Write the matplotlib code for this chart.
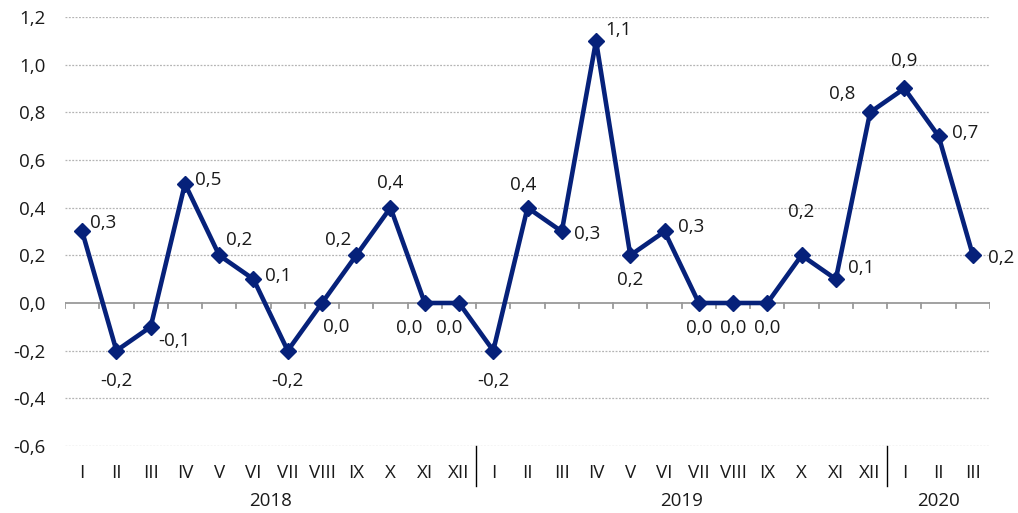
import matplotlib
matplotlib.use("Agg")
import matplotlib.pyplot as plt
import matplotlib.transforms as mtransforms

plt.rcParams['font.family'] = ['Open Sans', 'DejaVu Sans']

# monthly values, Jan 2018 - Mar 2020
months = ["I", "II", "III", "IV", "V", "VI", "VII", "VIII", "IX", "X", "XI", "XII",
          "I", "II", "III", "IV", "V", "VI", "VII", "VIII", "IX", "X", "XI", "XII",
          "I", "II", "III"]
values = [0.3, -0.2, -0.1, 0.5, 0.2, 0.1, -0.2, 0.0, 0.2, 0.4, 0.0, 0.0,
          -0.2, 0.4, 0.3, 1.1, 0.2, 0.3, 0.0, 0.0, 0.0, 0.2, 0.1, 0.8,
          0.9, 0.7, 0.2]
years = ["2018", "2019", "2020"]
year_lengths = [12, 12, 3]

# label offsets in points (dx, dy) for each data label
label_offsets = [(15, 6), (0, -22), (17, -10), (17, 3), (14, 11), (18, 2), (0, -22), (10, -17),
                 (-13, 11), (0, 18), (-11, -18), (-7, -18),
                 (0, -22), (-3, 16), (18, -2), (16, 8), (0, -18), (19, 3), (0, -18), (0, -18),
                 (0, -18), (0, 31), (18, 8), (-20, 13),
                 (0, 20), (19, 2), (20, -2)]

line_color = "#06217a"
text_color = "#1a1a1a"
fs = 13.5

fig = plt.figure(figsize=(10.18, 5.13), dpi=100)
ax = fig.add_axes([0.0639, 0.1306, 0.9086, 0.8363])

x = list(range(len(values)))
ax.set_xlim(-0.5, len(values) - 0.5)
ax.set_ylim(-0.6, 1.2)

# horizontal grid
grid_levels = [-0.6, -0.4, -0.2, 0.2, 0.4, 0.6, 0.8, 1.0, 1.2]
for g in grid_levels:
    ax.axhline(g, color="#b4b4b4", lw=0.9, ls=(0, (1.5, 1.2)), zorder=1)
ax.axhline(0, color="#9a9a9a", lw=1.3, zorder=2)
for b in range(len(values) + 1):
    ax.plot([b - 0.5, b - 0.5], [0, -0.022], color="#9a9a9a", lw=1.3, zorder=2)

ax.plot(x, values, color=line_color, lw=3.3, marker="D", markersize=8, zorder=3)

for xi, v, (dx, dy) in zip(x, values, label_offsets):
    txt = f"{v:.1f}".replace(".", ",")
    ax.annotate(txt, (xi, v), xytext=(dx, dy), textcoords="offset points",
                ha="center", va="center", fontsize=fs, color=text_color)

for s in ax.spines.values():
    s.set_visible(False)

ax.set_yticks([-0.6, -0.4, -0.2, 0.0, 0.2, 0.4, 0.6, 0.8, 1.0, 1.2])
ax.set_yticklabels([f"{t:.1f}".replace(".", ",") for t in ax.get_yticks()])
ax.set_xticks(x)
ax.set_xticklabels(months)
ax.tick_params(axis="both", length=0, labelsize=fs, colors=text_color)
ax.tick_params(axis="y", pad=14)
ax.tick_params(axis="x", pad=13)

# year labels and separators
trans = mtransforms.blended_transform_factory(ax.transData, ax.transAxes)
start = 0
for yr, n in zip(years, year_lengths):
    mid = start + (n - 1) / 2
    ax.text(mid, -0.128, yr, transform=trans, ha="center", va="center",
            fontsize=fs, color=text_color)
    if start > 0:
        ax.plot([start - 0.5, start - 0.5], [0, -0.093], transform=trans,
                color="black", lw=1, clip_on=False)
    start += n

fig.savefig("out.png", dpi=100)
